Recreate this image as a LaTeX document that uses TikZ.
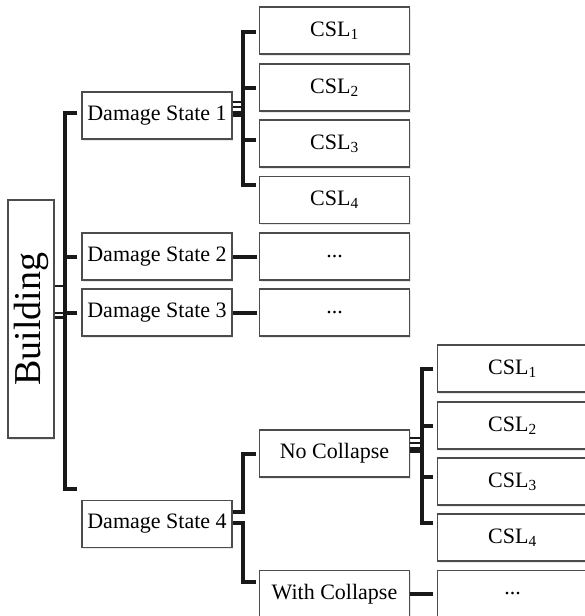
\documentclass[tikz,border=0pt]{standalone}
\usepackage{fontspec}
\setmainfont{Liberation Serif}
\usepackage{graphicx}
\usetikzlibrary{shadows}

\tikzset{
  box/.style={draw=black!70, line width=1.2pt, fill=white, minimum height=47pt,
    inner sep=0pt, font=\fontsize{22}{26}\selectfont,
    drop shadow={opacity=0.18, shadow xshift=1pt, shadow yshift=-1.5pt}},
  link/.style={draw=black!90, line width=4pt},
  thin link/.style={draw=black!90, line width=2.5pt},
  fat link/.style={draw=black!90, line width=6pt}
}

\begin{document}
\begin{tikzpicture}[x=1pt,y=-1pt]
\useasboundingbox (0,0) rectangle (585,616);
\clip (0,0) rectangle (585,616);

\begin{scope}[every node/.style={box, minimum width=150pt}]
    \node[minimum width=46pt, minimum height=238pt] (bld) at (31,319)
        {\rotatebox{90}{\fontsize{38}{44}\selectfont Building}};
    \node (ds1) at (157,115.5) {Damage State 1};
    \node (ds2) at (157,256.5) {Damage State 2};
    \node (ds3) at (157,312.5) {Damage State 3};
    \node (ds4) at (157,524) {Damage State 4};
    \node (csl1a) at (334.5,30.5) {CSL\textsubscript{1}};
    \node (csl2a) at (334.5,87.5) {CSL\textsubscript{2}};
    \node (csl3a) at (334.5,143.5) {CSL\textsubscript{3}};
    \node (csl4a) at (334.5,200) {CSL\textsubscript{4}};
    \node (dots2) at (334.5,256.5) {...};
    \node (dots3) at (334.5,312.5) {...};
    \node (nc) at (334.5,453.5) {No Collapse};
    \node (wc) at (334.5,594) {With Collapse};
    \node (csl1b) at (512.5,368.5) {CSL\textsubscript{1}};
    \node (csl2b) at (512.5,425.5) {CSL\textsubscript{2}};
    \node (csl3b) at (512.5,481.5) {CSL\textsubscript{3}};
    \node (csl4b) at (512.5,537.5) {CSL\textsubscript{4}};
    \node (dots4) at (512.5,594) {...};
\end{scope}

\begin{scope}[line join=miter]
    \draw[link] ([xshift=-4pt,yshift=2.5pt]ds1.west) -| ([xshift=-16pt,yshift=35pt]ds4.west)
        -- ([xshift=-4pt,yshift=35pt]ds4.west);
    \draw[link] ([xshift=-4pt]ds2.west) -- ([xshift=-16pt]ds2.west);
    \draw[link] ([xshift=-4pt]ds3.west) -- ([xshift=-16pt]ds3.west);
    \draw[thin link] ([yshift=33pt]bld.east) -- ++(12,0);
    \draw[thin link] ([yshift=6pt]bld.east) -- ++(12,0);
    \draw[thin link] ([yshift=1.5pt]bld.east) -- ++(12,0);

    \draw[thin link] ([yshift=13.5pt]ds1.east) -- ++(11,0);
    \draw[thin link] ([yshift=8.5pt]ds1.east) -- ++(11,0);
    \draw[fat link] ([yshift=2pt]ds1.east) -- ++(11,0);
    \draw[link] ([xshift=-3pt,yshift=-1.5pt]csl1a.west) -| ([xshift=-16pt,yshift=15pt]csl4a.west)
        -- ([xshift=-3pt,yshift=15pt]csl4a.west);
    \draw[link] ([xshift=-3pt]csl2a.west) -- ([xshift=-16pt]csl2a.west);
    \draw[link] ([xshift=-3pt,yshift=3.5pt]csl3a.west) -- ([xshift=-16pt,yshift=3.5pt]csl3a.west);

    \draw[link] (ds2.east) -- ([xshift=-2pt]dots2.west);
    \draw[link] (ds3.east) -- ([xshift=-2pt]dots3.west);

    \draw[link] ([yshift=12pt]ds4.east) -| ([xshift=-16pt]nc.west) -- ([xshift=-3pt]nc.west);
    \draw[link] ([yshift=1pt]ds4.east) -| ([xshift=-16pt,yshift=12pt]wc.west)
        -- ([xshift=-3pt,yshift=12pt]wc.west);

    \draw[thin link] ([yshift=15.5pt]nc.east) -- ++(12,0);
    \draw[thin link] ([yshift=10.5pt]nc.east) -- ++(12,0);
    \draw[fat link] ([yshift=3.5pt]nc.east) -- ++(12,0);
    \draw[link] ([xshift=-4pt]csl1b.west) -| ([xshift=-15pt,yshift=14.5pt]csl4b.west)
        -- ([xshift=-4pt,yshift=14.5pt]csl4b.west);
    \draw[link] ([xshift=-4pt]csl2b.west) -- ([xshift=-15pt]csl2b.west);
    \draw[link] ([xshift=-4pt,yshift=4.5pt]csl3b.west) -- ([xshift=-15pt,yshift=4.5pt]csl3b.west);

    \draw[link] (wc.east) -- ([xshift=-4pt]dots4.west);
\end{scope}
\end{tikzpicture}
\end{document}
